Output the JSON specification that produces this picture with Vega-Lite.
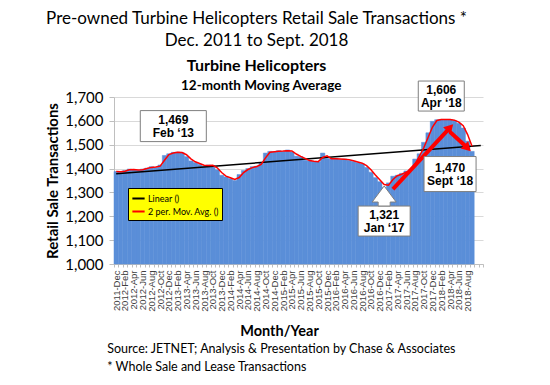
{
  "$schema": "https://vega.github.io/schema/vega-lite/v6.json",
  "width": 369,
  "height": 167,
  "padding": {"left": 45, "top": 10, "right": 5, "bottom": 5},
  "background": "white",
  "title": {
    "text": ["Pre-owned Turbine Helicopters Retail Sale Transactions *", "Dec. 2011 to Sept. 2018"],
    "subtitle": "Turbine Helicopters",
    "font": "Lato", "fontSize": 17, "fontWeight": "normal", "lineHeight": 22, "color": "#000000",
    "subtitleFont": "Lato", "subtitleFontSize": 16, "subtitleFontWeight": "bold", "subtitleColor": "#000000",
    "subtitlePadding": 8, "anchor": "middle", "frame": "bounds", "offset": 4, "dx": -9
  },
  "datasets": {
    "sales": [
      {"month": "2011-Dec", "v": 1388},
      {"month": "2012-Jan", "v": 1385}, {"month": "2012-Feb", "v": 1392}, {"month": "2012-Mar", "v": 1398}, {"month": "2012-Apr", "v": 1395},
      {"month": "2012-May", "v": 1393}, {"month": "2012-Jun", "v": 1398}, {"month": "2012-Jul", "v": 1402}, {"month": "2012-Aug", "v": 1408},
      {"month": "2012-Sep", "v": 1405}, {"month": "2012-Oct", "v": 1415}, {"month": "2012-Nov", "v": 1455}, {"month": "2012-Dec", "v": 1462},
      {"month": "2013-Jan", "v": 1468}, {"month": "2013-Feb", "v": 1469}, {"month": "2013-Mar", "v": 1466}, {"month": "2013-Apr", "v": 1450},
      {"month": "2013-May", "v": 1432}, {"month": "2013-Jun", "v": 1425}, {"month": "2013-Jul", "v": 1418}, {"month": "2013-Aug", "v": 1410},
      {"month": "2013-Sep", "v": 1415}, {"month": "2013-Oct", "v": 1412}, {"month": "2013-Nov", "v": 1395}, {"month": "2013-Dec", "v": 1372},
      {"month": "2014-Jan", "v": 1365}, {"month": "2014-Feb", "v": 1358}, {"month": "2014-Mar", "v": 1350}, {"month": "2014-Apr", "v": 1375},
      {"month": "2014-May", "v": 1392}, {"month": "2014-Jun", "v": 1400}, {"month": "2014-Jul", "v": 1408}, {"month": "2014-Aug", "v": 1410},
      {"month": "2014-Sep", "v": 1425}, {"month": "2014-Oct", "v": 1465}, {"month": "2014-Nov", "v": 1472}, {"month": "2014-Dec", "v": 1470},
      {"month": "2015-Jan", "v": 1475}, {"month": "2015-Feb", "v": 1472}, {"month": "2015-Mar", "v": 1478}, {"month": "2015-Apr", "v": 1470},
      {"month": "2015-May", "v": 1452}, {"month": "2015-Jun", "v": 1450}, {"month": "2015-Jul", "v": 1435}, {"month": "2015-Aug", "v": 1432},
      {"month": "2015-Sep", "v": 1430}, {"month": "2015-Oct", "v": 1428}, {"month": "2015-Nov", "v": 1465}, {"month": "2015-Dec", "v": 1442},
      {"month": "2016-Jan", "v": 1440}, {"month": "2016-Feb", "v": 1442}, {"month": "2016-Mar", "v": 1438}, {"month": "2016-Apr", "v": 1440},
      {"month": "2016-May", "v": 1435}, {"month": "2016-Jun", "v": 1430}, {"month": "2016-Jul", "v": 1425}, {"month": "2016-Aug", "v": 1420},
      {"month": "2016-Sep", "v": 1405}, {"month": "2016-Oct", "v": 1385}, {"month": "2016-Nov", "v": 1362}, {"month": "2016-Dec", "v": 1345},
      {"month": "2017-Jan", "v": 1321}, {"month": "2017-Feb", "v": 1340}, {"month": "2017-Mar", "v": 1368}, {"month": "2017-Apr", "v": 1372},
      {"month": "2017-May", "v": 1380}, {"month": "2017-Jun", "v": 1390}, {"month": "2017-Jul", "v": 1395}, {"month": "2017-Aug", "v": 1440},
      {"month": "2017-Sep", "v": 1462}, {"month": "2017-Oct", "v": 1510}, {"month": "2017-Nov", "v": 1550}, {"month": "2017-Dec", "v": 1598},
      {"month": "2018-Jan", "v": 1605}, {"month": "2018-Feb", "v": 1606}, {"month": "2018-Mar", "v": 1606}, {"month": "2018-Apr", "v": 1606},
      {"month": "2018-May", "v": 1600}, {"month": "2018-Jun", "v": 1590}, {"month": "2018-Jul", "v": 1570}, {"month": "2018-Aug", "v": 1515},
      {"month": "2018-Sep", "v": 1472}
    ],
    "notes": [
      {"kind": "b1", "month": "2013-Jan", "v": 1578, "label": "1,469\nFeb ‘13"},
      {"kind": "b2", "month": "2018-Feb", "v": 1704, "label": "1,606\nApr ‘18"},
      {"kind": "b3", "month": "2017-Jan", "v": 1180, "label": "1,321\nJan ‘17"},
      {"kind": "b4", "month": "2018-Apr", "v": 1377, "label": "1,470\nSept ‘18"},
      {"kind": "up", "month": "2017-Jan", "v": 1285, "label": ""}
    ]
  },
  "encoding": {
    "x": {
      "field": "month", "type": "ordinal",
      "scale": {
        "domain": ["2011-Dec",
          "2012-Jan","2012-Feb","2012-Mar","2012-Apr","2012-May","2012-Jun","2012-Jul","2012-Aug","2012-Sep","2012-Oct","2012-Nov","2012-Dec",
          "2013-Jan","2013-Feb","2013-Mar","2013-Apr","2013-May","2013-Jun","2013-Jul","2013-Aug","2013-Sep","2013-Oct","2013-Nov","2013-Dec",
          "2014-Jan","2014-Feb","2014-Mar","2014-Apr","2014-May","2014-Jun","2014-Jul","2014-Aug","2014-Sep","2014-Oct","2014-Nov","2014-Dec",
          "2015-Jan","2015-Feb","2015-Mar","2015-Apr","2015-May","2015-Jun","2015-Jul","2015-Aug","2015-Sep","2015-Oct","2015-Nov","2015-Dec",
          "2016-Jan","2016-Feb","2016-Mar","2016-Apr","2016-May","2016-Jun","2016-Jul","2016-Aug","2016-Sep","2016-Oct","2016-Nov","2016-Dec",
          "2017-Jan","2017-Feb","2017-Mar","2017-Apr","2017-May","2017-Jun","2017-Jul","2017-Aug","2017-Sep","2017-Oct","2017-Nov","2017-Dec",
          "2018-Jan","2018-Feb","2018-Mar","2018-Apr","2018-May","2018-Jun","2018-Jul","2018-Aug","2018-Sep","2018-Oct","2018-Nov"],
        "paddingInner": 0, "paddingOuter": 0
      },
      "axis": {
        "labelExpr": "test(regexp('(Dec|Feb|Apr|Jun|Aug|Oct)$'), datum.value) && datum.value != '2018-Oct' ? datum.value : ''",
        "tickBand": "extent",
        "title": "Month/Year", "titleFont": "Lato", "titleFontSize": 14.5, "titleFontWeight": "bold", "titleColor": "#000000",
        "titleX": 165, "titlePadding": 13,
        "labelAngle": -90, "labelFont": "Liberation Sans", "labelFontSize": 9.5, "labelColor": "#404040",
        "labelOverlap": false, "labelPadding": 3, "tickSize": 3, "tickColor": "#BFBFBF",
        "domainColor": "#BFBFBF", "grid": false
      }
    },
    "y": {
      "field": "v", "type": "quantitative",
      "scale": {"domain": [1000, 1700], "nice": false, "zero": false},
      "axis": {
        "values": [1000, 1100, 1200, 1300, 1400, 1500, 1600, 1700], "format": ",.0f",
        "title": "Retail Sale Transactions", "titleFont": "Lato", "titleFontSize": 15, "titleFontWeight": "bold", "titleColor": "#000000",
        "titlePadding": 4,
        "labelFont": "Lato", "labelFontSize": 15, "labelColor": "#000000", "labelPadding": 6,
        "tickSize": 5, "tickColor": "#BFBFBF", "domainColor": "#BFBFBF",
        "grid": true, "gridColor": "#D9D9D9"
      }
    }
  },
  "layer": [
    {
      "data": {"name": "sales"},
      "mark": {"type": "bar", "color": "#5A8ED8", "stroke": "#5A8ED8", "strokeWidth": 0.5},
      "encoding": {"y2": {"datum": 1000}}
    },
    {
      "data": {"values": [{"month": "2011-Dec", "v": 1378}, {"month": "2018-Nov", "v": 1497}]},
      "mark": {"type": "line", "strokeWidth": 1.5},
      "encoding": {
        "color": {"datum": "Linear ()", "type": "nominal",
          "scale": {"domain": ["Linear ()", "2 per. Mov. Avg. ()"], "range": ["#000000", "#FF0000"]},
          "legend": {"title": null, "orient": "none", "legendX": 14, "legendY": 91,
            "fillColor": "#FFFF00", "strokeColor": "#000000", "padding": 3,
            "labelFont": "Lato", "labelFontSize": 9, "labelColor": "#000000",
            "symbolType": "stroke", "symbolStrokeWidth": 2, "symbolSize": 150, "rowPadding": 0, "labelOffset": 2}}
      }
    },
    {
      "data": {"name": "sales"},
      "transform": [{"window": [{"op": "mean", "field": "v", "as": "ma"}], "frame": [-1, 0]}],
      "mark": {"type": "line", "strokeWidth": 1.5},
      "encoding": {
        "y": {"field": "ma", "type": "quantitative"},
        "color": {"datum": "2 per. Mov. Avg. ()", "type": "nominal"}
      }
    },
    {
      "data": {"values": [
        {"a": "a1", "month": "2017-Mar", "v": 1314}, {"a": "a1", "month": "2018-Apr", "v": 1572},
        {"a": "a2", "month": "2018-Apr", "v": 1553}, {"a": "a2", "month": "2018-Aug", "v": 1486}
      ]},
      "mark": {"type": "line", "color": "#FF0000", "strokeWidth": 4},
      "encoding": {"detail": {"field": "a", "type": "nominal"}}
    },
    {
      "data": {"values": [
        {"a": "a1", "month": "2018-Apr", "v": 1572}, {"a": "a2", "month": "2018-Aug", "v": 1486}
      ]},
      "mark": {"type": "point", "shape": "triangle-up", "filled": true, "color": "#FF0000", "opacity": 1, "size": 110},
      "encoding": {"angle": {"field": "a", "type": "nominal", "scale": {"domain": ["a1", "a2"], "range": [44, 135]}, "legend": null}}
    },
    {
      "data": {"name": "notes"},
      "mark": {"type": "point", "filled": true, "fill": "#FFFFFF", "stroke": "#7F7F7F", "strokeWidth": 1, "size": 3844, "opacity": 1},
      "encoding": {
        "shape": {"field": "kind", "type": "nominal", "legend": null,
          "scale": {"domain": ["b1", "b2", "b3", "b4", "up"],
            "range": ["M-1.065,-0.5H1.065V0.5H-1.065Z", "M-0.742,-0.484H0.742V0.484H-0.742Z", "M-0.839,-0.484H0.839V0.484H-0.839Z",
                      "M-0.839,-0.565H0.839V0.565H-0.839Z", "M0,-0.323L0.387,0.194L0.194,0.194L0.194,0.323L-0.194,0.323L-0.194,0.194L-0.387,0.194Z"]}}
      }
    },
    {
      "data": {"name": "notes"},
      "mark": {"type": "text", "font": "Liberation Sans", "fontSize": 12, "fontWeight": "bold", "lineBreak": "\n", "lineHeight": 13.5, "baseline": "middle", "align": "center", "dy": -6.5, "color": "#000000"},
      "encoding": {"text": {"field": "label"}}
    },
    {
      "data": {"values": [{"month": "2014-Sep", "v": 1746, "t": "12-month Moving Average"}]},
      "mark": {"type": "text", "font": "Lato", "fontSize": 13.5, "fontWeight": "bold", "baseline": "middle", "align": "center", "color": "#000000"},
      "encoding": {"text": {"field": "t"}}
    },
    {
      "data": {"values": [
        {"month": "2011-Dec", "v": 644, "t": "Source: JETNET; Analysis & Presentation by Chase & Associates"},
        {"month": "2011-Dec", "v": 568, "t": "* Whole Sale and Lease Transactions"}
      ]},
      "mark": {"type": "text", "font": "Lato", "fontSize": 12.5, "baseline": "middle", "align": "left", "dx": -9, "color": "#000000"},
      "encoding": {"text": {"field": "t"}}
    }
  ],
  "config": {
    "view": {"stroke": null}
  }
}
